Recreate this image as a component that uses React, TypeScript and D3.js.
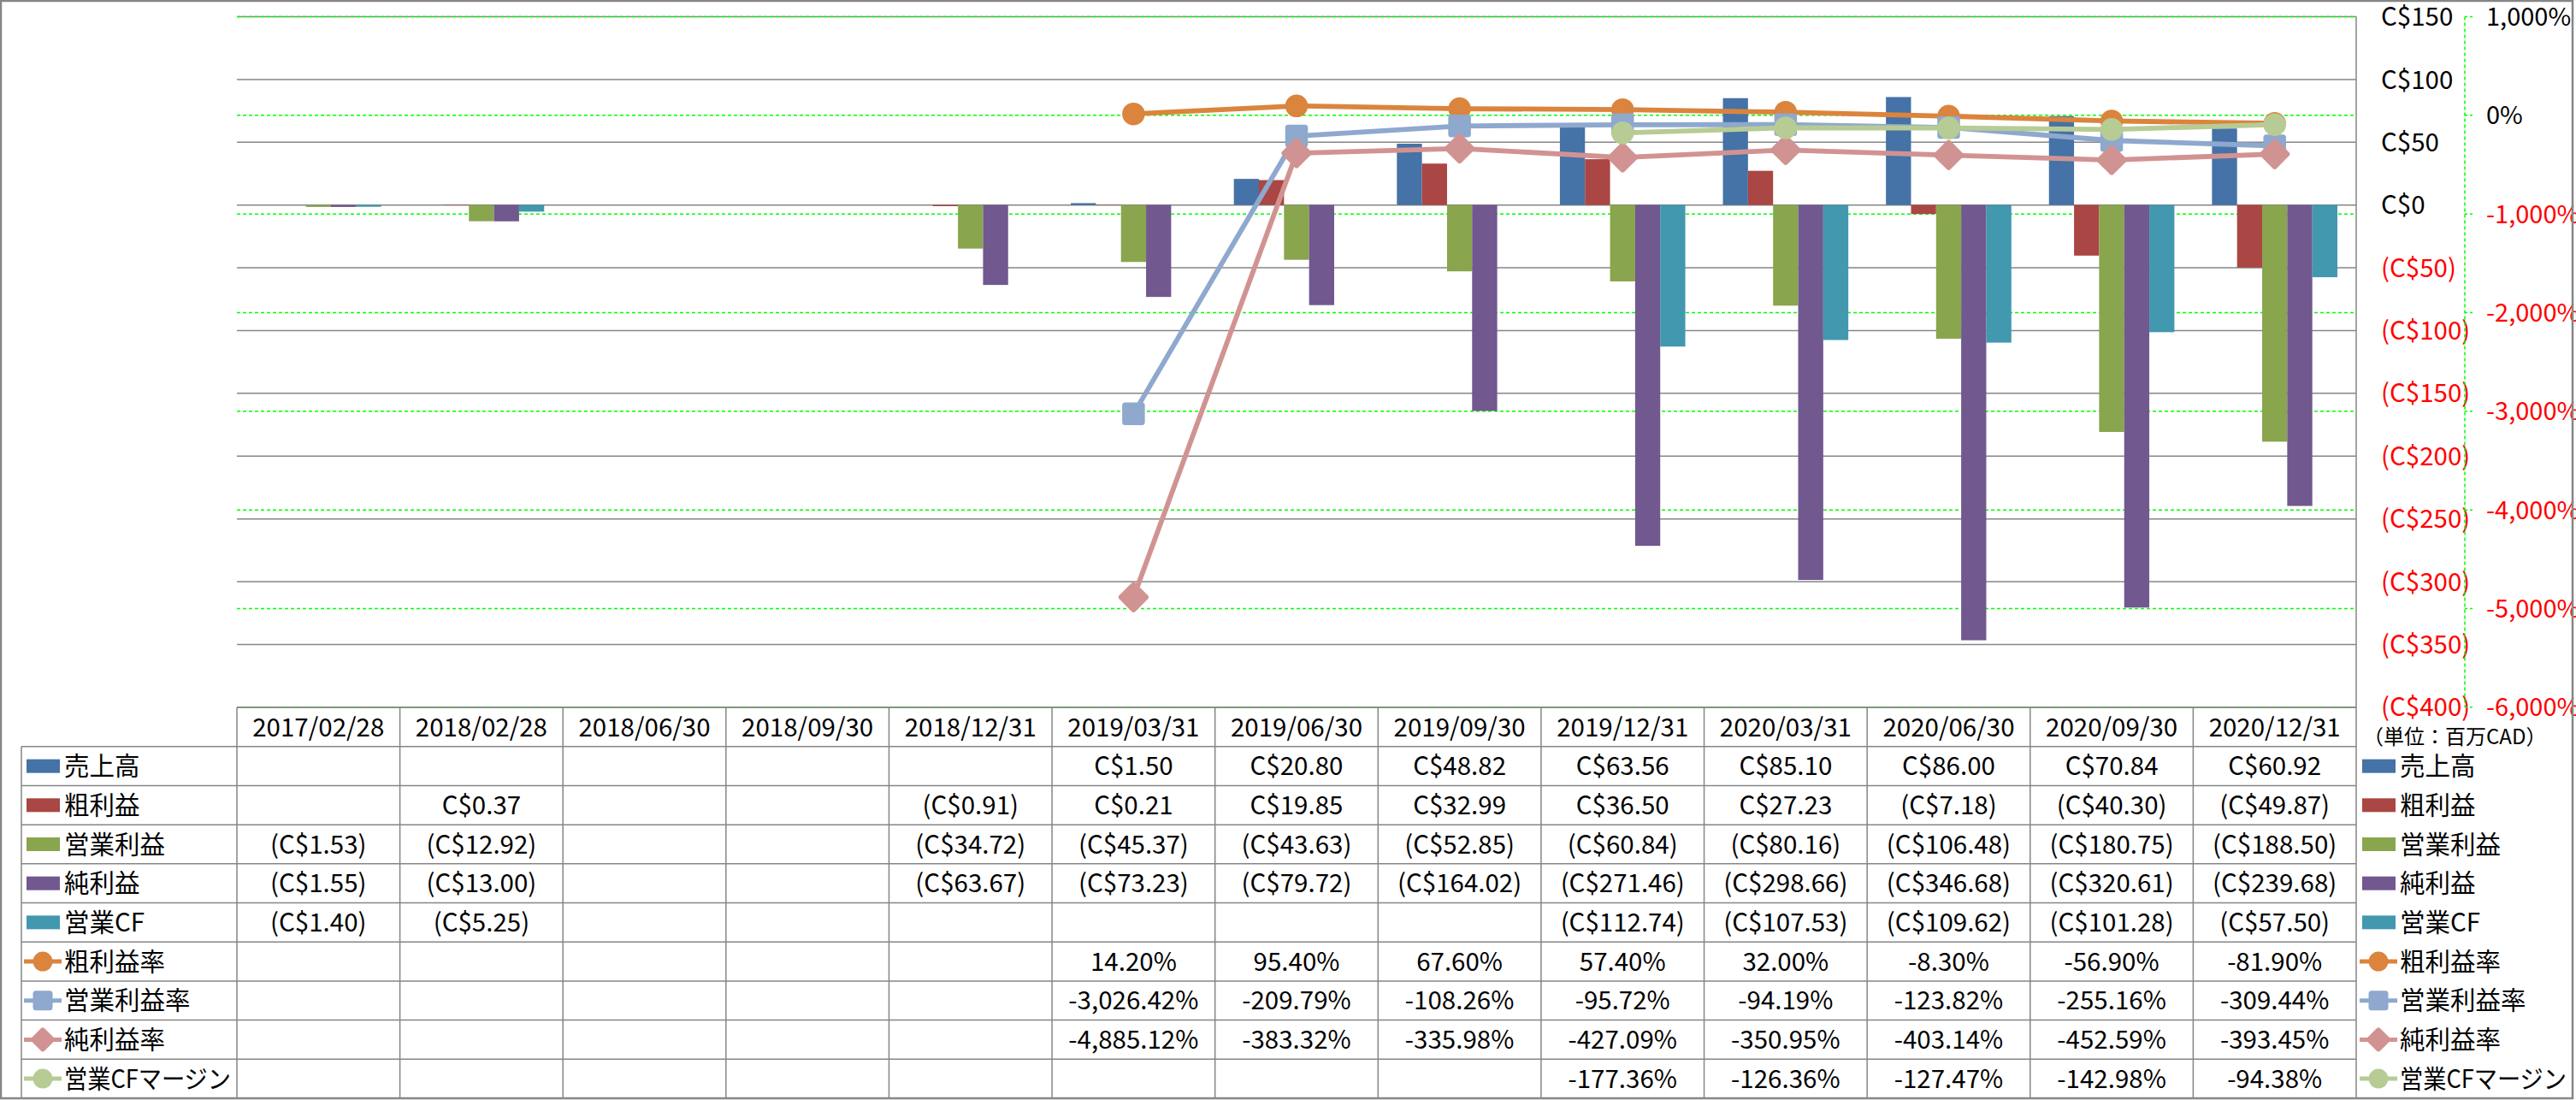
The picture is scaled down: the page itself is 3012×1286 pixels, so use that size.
import React from "react";
import * as d3 from "d3";

// ---------- data ----------
const dates = [
  "2017/02/28", "2018/02/28", "2018/06/30", "2018/09/30", "2018/12/31",
  "2019/03/31", "2019/06/30", "2019/09/30", "2019/12/31", "2020/03/31",
  "2020/06/30", "2020/09/30", "2020/12/31",
];
const sales = [null, null, null, null, null, 1.5, 20.8, 48.82, 63.56, 85.1, 86.0, 70.84, 60.92];
const grossProfit = [null, 0.37, null, null, -0.91, 0.21, 19.85, 32.99, 36.5, 27.23, -7.18, -40.3, -49.87];
const operatingIncome = [-1.53, -12.92, null, null, -34.72, -45.37, -43.63, -52.85, -60.84, -80.16, -106.48, -180.75, -188.5];
const netIncome = [-1.55, -13.0, null, null, -63.67, -73.23, -79.72, -164.02, -271.46, -298.66, -346.68, -320.61, -239.68];
const operatingCF = [-1.4, -5.25, null, null, null, null, null, null, -112.74, -107.53, -109.62, -101.28, -57.5];
const grossMargin = [null, null, null, null, null, 14.2, 95.4, 67.6, 57.4, 32.0, -8.3, -56.9, -81.9];
const operatingMargin = [null, null, null, null, null, -3026.42, -209.79, -108.26, -95.72, -94.19, -123.82, -255.16, -309.44];
const netMargin = [null, null, null, null, null, -4885.12, -383.32, -335.98, -427.09, -350.95, -403.14, -452.59, -393.45];
const cfMargin = [null, null, null, null, null, null, null, null, -177.36, -126.36, -127.47, -142.98, -94.38];
const amountTicks = [150, 100, 50, 0, -50, -100, -150, -200, -250, -300, -350, -400];
const percentTicks = [1000, 0, -1000, -2000, -3000, -4000, -5000, -6000];
const barNames = ["売上高", "粗利益", "営業利益", "純利益", "営業CF"];
const lineNames = ["粗利益率", "営業利益率", "純利益率", "営業CFマージン"];
const unitLabel = "（単位：百万CAD）";

// ---------- styles ----------
const barColors = ["#4572A7", "#AA4643", "#89A54E", "#71588F", "#4198AF"];
const lineColors = ["#DB843D", "#8EA8CE", "#D19392", "#B7CC94"];
const markerShapes = ["circle", "square", "diamond", "circle"];

const W = 3012;
const H = 1286;
const plotL = 277;
const plotR = 2755;
const plotT = 19.5;
const plotB = 826.8;
const headerTop = 827;
const rowTop = 872.8;
const rowH = 45.68;
const legendL = 25;
const FONT = "'Noto Sans CJK JP', 'Noto Sans', sans-serif";
const FS = 29.5;
const GRAY = "#868686";
const MAX_LABEL_W = 195;

const loc = d3.formatLocale({ decimal: ".", thousands: ",", grouping: [3], currency: ["", ""], minus: "-" });
const fmtPct2 = loc.format(",.2f");
const fmtInt = loc.format(",");

const fmtAmount = (v: number) => (v >= 0 ? `C$${v.toFixed(2)}` : `(C$${Math.abs(v).toFixed(2)})`);
const fmtAmountTick = (v: number) => (v >= 0 ? `C$${v}` : `(C$${-v})`);

function Marker({ shape, x, y, size, color }: { shape: string; x: number; y: number; size: number; color: string }) {
  if (shape === "circle") {
    return <circle cx={x} cy={y} r={size / 2} fill={color} />;
  }
  if (shape === "square") {
    return <rect x={x - size / 2} y={y - size / 2} width={size} height={size} rx={3.5} fill={color} />;
  }
  const s = size * 0.72;
  return (
    <rect
      x={x - s / 2}
      y={y - s / 2}
      width={s}
      height={s}
      rx={3}
      fill={color}
      transform={`rotate(45 ${x} ${y})`}
    />
  );
}

function LegendLabel({ x, y, name }: { x: number; y: number; name: string }) {
  const long = name.length >= 7;
  return (
    <text
      x={x}
      y={y}
      dy="0.36em"
      fontSize={FS}
      fill="#000"
      textLength={long ? MAX_LABEL_W : undefined}
      lengthAdjust={long ? "spacingAndGlyphs" : undefined}
    >
      {name}
    </text>
  );
}

export default function App() {
  const barSeries = [sales, grossProfit, operatingIncome, netIncome, operatingCF];
  const lineSeries = [grossMargin, operatingMargin, netMargin, cfMargin];

  const x = d3.scaleBand<string>().domain(dates).range([plotL, plotR]).padding(0);
  const bw = x.bandwidth() / 6.5;
  const yA = d3.scaleLinear().domain([-400, 150]).range([plotB, plotT]);
  const yP = d3.scaleLinear().domain([-6000, 1000]).range([plotB, plotT]);

  const lineGen = d3
    .line<number | null>()
    .defined((d) => d != null)
    .x((_, i) => (x(dates[i]) as number) + x.bandwidth() / 2)
    .y((d) => yP(d as number));

  const tableRows: { name: string; kind: string; idx: number; values: (number | null)[] }[] = [
    ...barNames.map((n, i) => ({ name: n, kind: "bar", idx: i, values: barSeries[i] })),
    ...lineNames.map((n, i) => ({ name: n, kind: "line", idx: i, values: lineSeries[i] })),
  ];

  const axisX = 2882;

  const legendKey = (kind: string, idx: number, x0: number, cy: number) => {
    if (kind === "bar") {
      return <rect x={x0 + 3} y={cy - 8} width={39} height={16} fill={barColors[idx]} />;
    }
    return (
      <g>
        <line x1={x0} x2={x0 + 44} y1={cy} y2={cy} stroke={lineColors[idx]} strokeWidth={5} />
        <Marker shape={markerShapes[idx]} x={x0 + 22} y={cy} size={idx === 2 ? 30 : 23} color={lineColors[idx]} />
      </g>
    );
  };

  return (
    <svg
      width={W}
      height={H}
      style={{ position: "absolute", left: 0, top: 0, background: "#fff" }}
      fontFamily={FONT}
    >
      <rect x={0} y={0} width={W} height={H} fill="#fff" />

      {/* gray amount gridlines */}
      {amountTicks.map((t) => (
        <line key={`ga${t}`} x1={plotL} x2={plotR} y1={yA(t)} y2={yA(t)} stroke={GRAY} strokeWidth={1.5} />
      ))}
      {/* green dashed percent gridlines */}
      {percentTicks.map((t) => (
        <line
          key={`gp${t}`}
          x1={plotL}
          x2={plotR}
          y1={yP(t)}
          y2={yP(t)}
          stroke="#00FF00"
          strokeWidth={1.5}
          strokeDasharray="4 3"
        />
      ))}

      {/* bars */}
      {barSeries.map((series, si) =>
        series.map((v, i) => {
          if (v == null) return null;
          const bx = (x(dates[i]) as number) + bw * 0.75 + si * bw;
          const y0 = yA(0);
          const y1 = yA(v);
          return (
            <rect
              key={`b${si}-${i}`}
              x={bx}
              y={Math.min(y0, y1)}
              width={bw}
              height={Math.max(0.5, Math.abs(y1 - y0))}
              fill={barColors[si]}
            />
          );
        })
      )}

      {/* lines */}
      {lineSeries.map((series, si) => (
        <g key={`l${si}`}>
          <path d={lineGen(series) || ""} fill="none" stroke={lineColors[si]} strokeWidth={5.8} strokeLinejoin="round" />
          {series.map((v, i) =>
            v == null ? null : (
              <Marker
                key={`m${si}-${i}`}
                shape={markerShapes[si]}
                x={(x(dates[i]) as number) + x.bandwidth() / 2}
                y={yP(v)}
                size={si === 2 ? 37 : 26.5}
                color={lineColors[si]}
              />
            )
          )}
        </g>
      ))}

      {/* plot right border / amount axis */}
      <line x1={plotR} x2={plotR} y1={plotT} y2={H - 2} stroke={GRAY} strokeWidth={1.5} />

      {/* amount axis labels */}
      {amountTicks.map((t) => (
        <text
          key={`ta${t}`}
          x={2784}
          y={yA(t)}
          dy="0.36em"
          fontSize={FS}
          fill={t < 0 ? "#FF0000" : "#000"}
        >
          {fmtAmountTick(t)}
        </text>
      ))}

      {/* percent axis */}
      <line x1={axisX} x2={axisX} y1={plotT} y2={plotB} stroke="#00FF00" strokeWidth={1.5} strokeDasharray="4 3" />
      {percentTicks.map((t) => (
        <g key={`tp${t}`}>
          <line x1={axisX} x2={axisX + 9} y1={yP(t)} y2={yP(t)} stroke="#00FF00" strokeWidth={1.5} strokeDasharray="3 3" />
          <text x={2907} y={yP(t)} dy="0.36em" fontSize={29} fill={t < 0 ? "#FF0000" : "#000"}>
            {fmtInt(t)}%
          </text>
        </g>
      ))}

      {/* unit label */}
      <text x={2763} y={861} dy="0.36em" fontSize={24} fill="#000">
        {unitLabel}
      </text>

      {/* data table */}
      <g>
        {/* header */}
        <line x1={plotL} x2={plotR} y1={headerTop} y2={headerTop} stroke={GRAY} strokeWidth={1.5} />
        {dates.map((d) => (
          <text
            key={`h${d}`}
            x={(x(d) as number) + x.bandwidth() / 2}
            y={(headerTop + rowTop) / 2}
            dy="0.36em"
            fontSize={FS}
            textAnchor="middle"
            fill="#000"
          >
            {d}
          </text>
        ))}
        {/* horizontal row lines */}
        {d3.range(tableRows.length + 1).map((r) => (
          <line
            key={`rl${r}`}
            x1={legendL}
            x2={plotR}
            y1={rowTop + r * rowH}
            y2={rowTop + r * rowH}
            stroke={GRAY}
            strokeWidth={1.5}
          />
        ))}
        {/* vertical lines */}
        <line x1={legendL} x2={legendL} y1={rowTop} y2={H - 2} stroke={GRAY} strokeWidth={1.5} />
        {dates.map((d) => (
          <line
            key={`vl${d}`}
            x1={x(d) as number}
            x2={x(d) as number}
            y1={headerTop}
            y2={H - 2}
            stroke={GRAY}
            strokeWidth={1.5}
          />
        ))}
        {/* rows */}
        {tableRows.map((row, r) => {
          const cy = rowTop + r * rowH + rowH / 2;
          return (
            <g key={`row${r}`}>
              {legendKey(row.kind, row.idx, 28, cy)}
              <LegendLabel x={75} y={cy} name={row.name} />
              {row.values.map((v, i) =>
                v == null ? null : (
                  <text
                    key={`c${r}-${i}`}
                    x={(x(dates[i]) as number) + x.bandwidth() / 2}
                    y={cy}
                    dy="0.36em"
                    fontSize={FS}
                    textAnchor="middle"
                    fill="#000"
                  >
                    {row.kind === "bar" ? fmtAmount(v) : `${fmtPct2(v)}%`}
                  </text>
                )
              )}
              {/* right legend */}
              {legendKey(row.kind, row.idx, 2759, cy)}
              <LegendLabel x={2806} y={cy} name={row.name} />
            </g>
          );
        })}
      </g>

      {/* outer border */}
      <rect x={1} y={1} width={3007} height={1283} fill="none" stroke={GRAY} strokeWidth={2.5} />
    </svg>
  );
}
